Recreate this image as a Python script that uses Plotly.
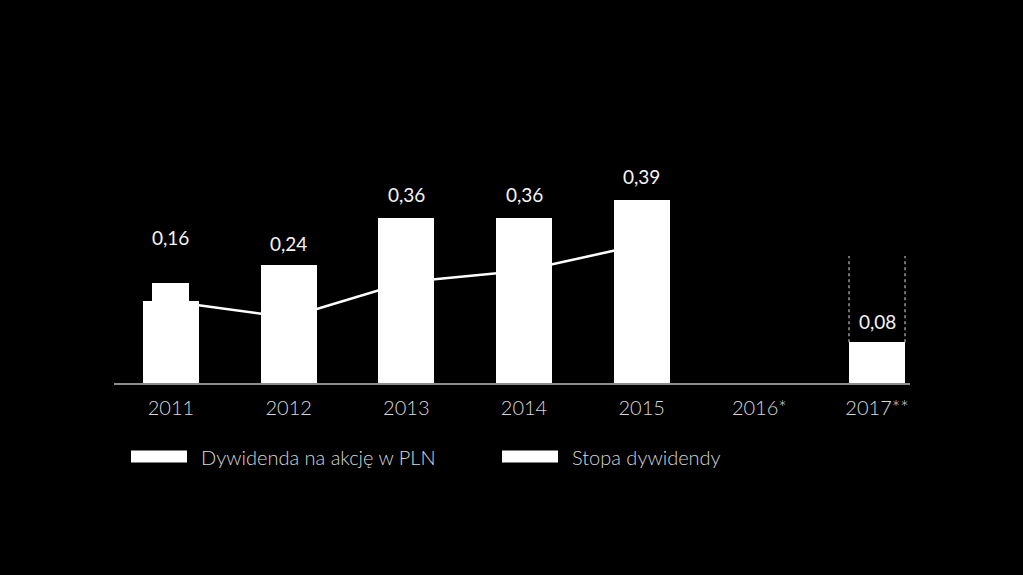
import plotly.graph_objects as go

# ---- data ----
years = ["2011", "2012", "2013", "2014", "2015", "2016*", "2017**"]
dividend = [0.173, 0.251, 0.349, 0.349, 0.387, None, 0.0865]      # bar heights (PLN)
dividend_labels = ["0,16", "0,24", "0,36", "0,36", "0,39", "", "0,08"]
bump_2011 = [0.211, None, None, None, None, None, None]            # raised part of 2011 bar
dividend_yield = [3.46, 2.78, 4.28, 4.77, 5.87]                    # Stopa dywidendy (%), 2011-2015
forecast_top = 0.269                                               # dotted outline top for 2017**

BAR_W = 0.476
BUMP_W = 0.314
FONT = "Lato"

xpos = list(range(len(years)))

fig = go.Figure()

# line (on the lower subplot so bars cover it)
fig.add_trace(go.Scatter(
    x=xpos[:len(dividend_yield)], y=dividend_yield, mode="lines",
    line=dict(color="white", width=2.5), xaxis="x", yaxis="y",
    showlegend=False, hoverinfo="skip"))

# bars
fig.add_trace(go.Bar(
    x=xpos, y=dividend, width=BAR_W, marker=dict(color="white", line=dict(width=0)),
    xaxis="x", yaxis="y2", showlegend=False))
fig.add_trace(go.Bar(
    x=xpos, y=bump_2011, width=BUMP_W, marker=dict(color="white", line=dict(width=0)),
    xaxis="x", yaxis="y2", showlegend=False))

# dotted outline for 2017**
i17 = years.index("2017**")
for side in (-1, 1):
    xx = xpos[i17] + side * BAR_W / 2
    fig.add_trace(go.Scatter(
        x=[xx, xx], y=[dividend[i17], forecast_top], mode="lines",
        line=dict(color="#9a9a9a", width=1.5, dash="dot"),
        xaxis="x", yaxis="y2", showlegend=False, hoverinfo="skip"))

# value labels (label centre distance above bar top, px)
label_shift = [46, 21, 24, 24, 24, 0, 21]
for i, (v, t) in enumerate(zip(dividend, dividend_labels)):
    if v is None or not t:
        continue
    top = v
    if bump_2011[i] is not None:
        top = bump_2011[i]
    fig.add_annotation(
        x=xpos[i], y=top, xref="x", yref="y2", text=t, showarrow=False,
        yshift=label_shift[i], yanchor="middle",
        font=dict(family=FONT, size=19, color="#f4f4f4", weight=400))

# manual legend
legend_items = ["Dywidenda na akcję w PLN", "Stopa dywidendy"]
legend_x = [(131 - 114) / 796, (502 - 114) / 796]
rect_w = 56 / 796
y_top = (382.5 - 450) / 283
y_bot = (382.5 - 462) / 283
for name, lx in zip(legend_items, legend_x):
    fig.add_shape(type="rect", xref="paper", yref="paper",
                  x0=lx, x1=lx + rect_w, y0=y_bot, y1=y_top,
                  fillcolor="white", line=dict(width=0))
    fig.add_annotation(xref="paper", yref="paper",
                       x=lx + rect_w + 12 / 796, y=(y_top + y_bot) / 2,
                       xanchor="left", yanchor="middle", showarrow=False,
                       text=name, font=dict(family=FONT, size=20, color="#d8d8d8", weight=300))

fig.update_layout(
    width=1023, height=575,
    paper_bgcolor="black", plot_bgcolor="black",
    margin=dict(l=114, r=113, t=100, b=192),
    barmode="overlay", bargap=0,
    showlegend=False,
    xaxis=dict(
        range=[-0.484, 6.28], tickmode="array", tickvals=xpos, ticktext=years,
        showgrid=False, zeroline=False, showline=True, linecolor="#8c8c8c", linewidth=1.5,
        ticks="", tickfont=dict(family=FONT, size=20, color="#d8d8d8", weight=300),
        ticklabelstandoff=6,
    ),
    yaxis=dict(range=[0, 12], visible=False, showgrid=False, zeroline=False),
    yaxis2=dict(range=[0, 0.6], visible=False, showgrid=False, zeroline=False,
                overlaying="y"),
)

fig.write_html(
    "out.html",
    config={"displayModeBar": False},
    post_script="document.body.style.margin='0';document.body.style.background='black';"
                "document.body.style.overflow='hidden';",
)
